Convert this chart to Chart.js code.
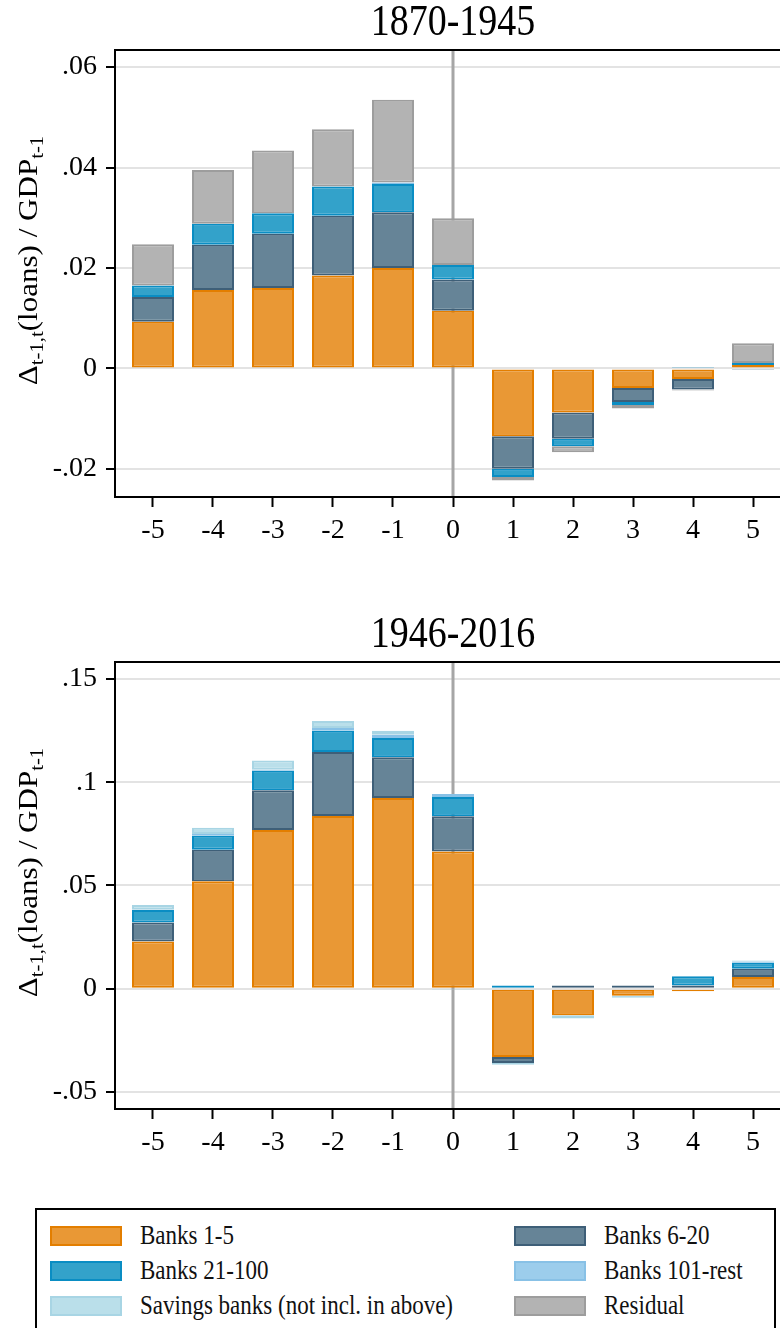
<!DOCTYPE html>
<html>
<head>
<meta charset="utf-8">
<script src="https://cdn.jsdelivr.net/npm/chart.js@4"></script>
<style>
    body { margin: 0; width: 780px; height: 1328px; overflow: hidden; background: #fff; font-family: "Liberation Serif", serif; }
    .panneau { position: absolute; left: 0; width: 810px; height: 560px; }
    #legende { position: absolute; left: 35px; top: 1208px; width: 741px; height: 140px; border: 2px solid #000; box-sizing: border-box; }
    .item { position: absolute; font-size: 23px; color: #111; line-height: 22px; }
    .item span.carre { position: absolute; left: 0; top: 0; width: 72px; height: 20px; box-sizing: border-box; border: 2px solid; }
    .item span.texte { position: absolute; left: 90px; top: -1px; white-space: nowrap; transform: scaleY(1.2); transform-origin: 0 50%; }
</style>
</head>
<body>
<div class="panneau" style="top:0"><canvas id="graphAvant" width="810" height="560"></canvas></div>
<div class="panneau" style="top:612px"><canvas id="graphApres" width="810" height="560"></canvas></div>
<div id="legende"></div>

<script>
// ============================================
// Données
// ============================================
var annees = [-5, -4, -3, -2, -1, 0, 1, 2, 3, 4, 5];

var series = ["Banks 1-5", "Banks 6-20", "Banks 21-100", "Banks 101-rest", "Savings banks (not incl. in above)", "Residual"];
var remplissage = ["#E99835", "#668497", "#33A2CA", "#9CCDEC", "#BADFEA", "#B3B3B3"];
var bordures = ["#E37E00", "#3E5F78", "#0A8DC3", "#88C1E6", "#A8D5E4", "#9D9D9D"];

// 1870-1945
var avant_b1_5    = [0.0093, 0.0156, 0.0160, 0.0185, 0.0200, 0.0115, -0.0135, -0.0088, -0.0039, -0.0021, 0.0007];
var avant_b6_20   = [0.0049, 0.0090, 0.0108, 0.0119, 0.0111, 0.0062, -0.0065, -0.0052, -0.0028, -0.0021, -0.0003];
var avant_b21_100 = [0.0023, 0.0042, 0.0041, 0.0058, 0.0056, 0.0029, -0.0016, -0.0015, -0.0006, 0.0003, 0.0004];
var avant_b101    = [0, 0, 0, 0, 0.0003, 0, 0, 0, 0, 0, 0];
var avant_epargne = [0, 0, 0, 0, 0, 0, 0, 0, 0, 0, 0];
var avant_residu  = [0.0082, 0.0107, 0.0125, 0.0114, 0.0165, 0.0093, -0.0007, -0.0012, -0.0007, -0.0002, 0.0039];

// 1946-2016
var apres_b1_5    = [0.0229, 0.0520, 0.0769, 0.0837, 0.0924, 0.0665, -0.0331, -0.0129, -0.0034, -0.0013, 0.0057];
var apres_b6_20   = [0.0092, 0.0153, 0.0192, 0.0310, 0.0197, 0.0170, -0.0029, 0.0015, 0.0015, 0.0016, 0.0040];
var apres_b21_100 = [0.0060, 0.0068, 0.0095, 0.0103, 0.0094, 0.0094, 0.0015, 0, -0.0004, 0.0044, 0.0029];
var apres_b101    = [0.0002, 0.0009, 0.0005, 0.0013, 0.0016, 0.0014, 0, 0, 0, 0, 0.0004];
var apres_epargne = [0.0022, 0.0030, 0.0045, 0.0034, 0.0019, -0.0003, -0.0008, -0.0015, -0.0006, 0, 0.0006];
var apres_residu  = [0, 0, 0, 0, 0, 0, 0, 0, 0, 0, 0];

var ticksAvant = [-0.02, 0, 0.02, 0.04, 0.06];
var ticksApres = [-0.05, 0, 0.05, 0.1, 0.15];

var POLICE = "'Liberation Serif', 'Times New Roman', serif";

// Format Stata : ".06", "0", "-.02"
function formatTick(v) {
    var r = Math.round(v * 1000) / 1000;
    if (r === 0) return "0";
    return (r < 0 ? "-" : "") + String(Math.abs(r)).replace(/^0/, "");
}

// ============================================
// Plugins : cadre, ligne verticale, titres
// ============================================
var pluginDecor = {
    id: "decor",
    beforeDatasetsDraw: function (chart) {
        var ctx = chart.ctx, a = chart.chartArea;
        var x0 = chart.scales.x.getPixelForValue(0);
        ctx.save();
        ctx.strokeStyle = "#A6A6A6";
        ctx.lineWidth = 3;
        ctx.beginPath();
        ctx.moveTo(x0, a.top);
        ctx.lineTo(x0, a.bottom);
        ctx.stroke();
        ctx.restore();
    },
    afterDraw: function (chart, args, opts) {
        var ctx = chart.ctx, a = chart.chartArea;
        ctx.save();
        // cadre
        ctx.strokeStyle = "#000";
        ctx.lineWidth = 2;
        ctx.strokeRect(a.left, a.top, a.right - a.left, a.bottom - a.top);

        // titre
        ctx.save();
        ctx.fillStyle = "#000";
        ctx.font = "38px " + POLICE;
        ctx.textAlign = "center";
        ctx.textBaseline = "middle";
        ctx.translate(chart.scales.x.getPixelForValue(0), a.top - 26);
        ctx.scale(1, 1.15);
        ctx.fillText(opts.titre, 0, 0);
        ctx.restore();

        // titre axe Y avec indices
        var morceaux = [
            { t: "\u0394", sub: false },
            { t: "t-1,t", sub: true },
            { t: "(loans) / GDP", sub: false },
            { t: "t-1", sub: true }
        ];
        var total = 0;
        morceaux.forEach(function (m) {
            ctx.font = (m.sub ? "18px " : "27px ") + POLICE;
            m.w = ctx.measureText(m.t).width;
            total += m.w;
        });
        ctx.fillStyle = "#000";
        ctx.translate(37, (a.top + a.bottom) / 2 - 13);
        ctx.rotate(-Math.PI / 2);
        ctx.scale(1.15, 1);
        ctx.textAlign = "left";
        ctx.textBaseline = "alphabetic";
        var x = -total / 2;
        morceaux.forEach(function (m) {
            ctx.font = (m.sub ? "18px " : "27px ") + POLICE;
            ctx.fillText(m.t, x, m.sub ? 6 : 0);
            x += m.w;
        });
        ctx.restore();
    }
};

function creerGraphique(id, titre, valeurs, yMin, yMax, pas) {
    var datasets = valeurs.map(function (v, i) {
        return {
            label: series[i],
            data: annees.map(function (a, k) { return { x: a, y: v[k] }; }),
            backgroundColor: remplissage[i],
            borderColor: bordures[i],
            borderWidth: 2,
            borderSkipped: false,
            barPercentage: 0.7,
            categoryPercentage: 1
        };
    });

    new Chart(document.getElementById(id).getContext("2d"), {
        type: "bar",
        data: { datasets: datasets },
        plugins: [pluginDecor],
        options: {
            responsive: false,
            animation: false,
            devicePixelRatio: 1,
            layout: { padding: { top: 50, left: 0, right: 19, bottom: 0 } },
            plugins: {
                legend: { display: false },
                tooltip: { enabled: false },
                decor: { titre: titre }
            },
            scales: {
                x: {
                    type: "linear",
                    stacked: true,
                    offset: false,
                    min: -5.633,
                    max: 5.633,
                    afterFit: function (s) { s.height = 63; },
                    ticks: {
                        stepSize: 1,
                        includeBounds: false,
                        padding: 7,
                        color: "#000",
                        font: { family: POLICE, size: 28 },
                        callback: function (v) { return String(v); }
                    },
                    grid: { offset: false, drawOnChartArea: false, tickLength: 10, tickColor: "#000", tickWidth: 2 },
                    border: { color: "#000", width: 2 }
                },
                y: {
                    stacked: true,
                    min: yMin,
                    max: yMax,
                    afterFit: function (s) { s.width = 115; },
                    ticks: {
                        stepSize: pas,
                        includeBounds: false,
                        padding: 9,
                        color: "#000",
                        font: { family: POLICE, size: 28 },
                        callback: function (v) { return formatTick(v); }
                    },
                    grid: { color: "#E3E3E3", lineWidth: 2, tickLength: 9, tickColor: "#000", tickWidth: 2 },
                    border: { color: "#000", width: 2 }
                }
            }
        }
    });
}

creerGraphique("graphAvant", "1870-1945",
    [avant_b1_5, avant_b6_20, avant_b21_100, avant_b101, avant_epargne, avant_residu],
    -0.0256, 0.0634, ticksAvant[1] - ticksAvant[0]);

creerGraphique("graphApres", "1946-2016",
    [apres_b1_5, apres_b6_20, apres_b21_100, apres_b101, apres_epargne, apres_residu],
    -0.0583, 0.1583, ticksApres[1] - ticksApres[0]);

// ============================================
// Légende (deux colonnes, trois lignes)
// ============================================
var legende = document.getElementById("legende");
series.forEach(function (nom, i) {
    var col = i % 2, ligne = Math.floor(i / 2);
    var div = document.createElement("div");
    div.className = "item";
    div.style.left = (col === 0 ? 13 : 477) + "px";
    div.style.top = (16 + ligne * 35) + "px";
    div.innerHTML =
        '<span class="carre" style="background:' + remplissage[i] + ';border-color:' + bordures[i] + '"></span>' +
        '<span class="texte">' + nom + "</span>";
    legende.appendChild(div);
});
</script>
</body>
</html>
